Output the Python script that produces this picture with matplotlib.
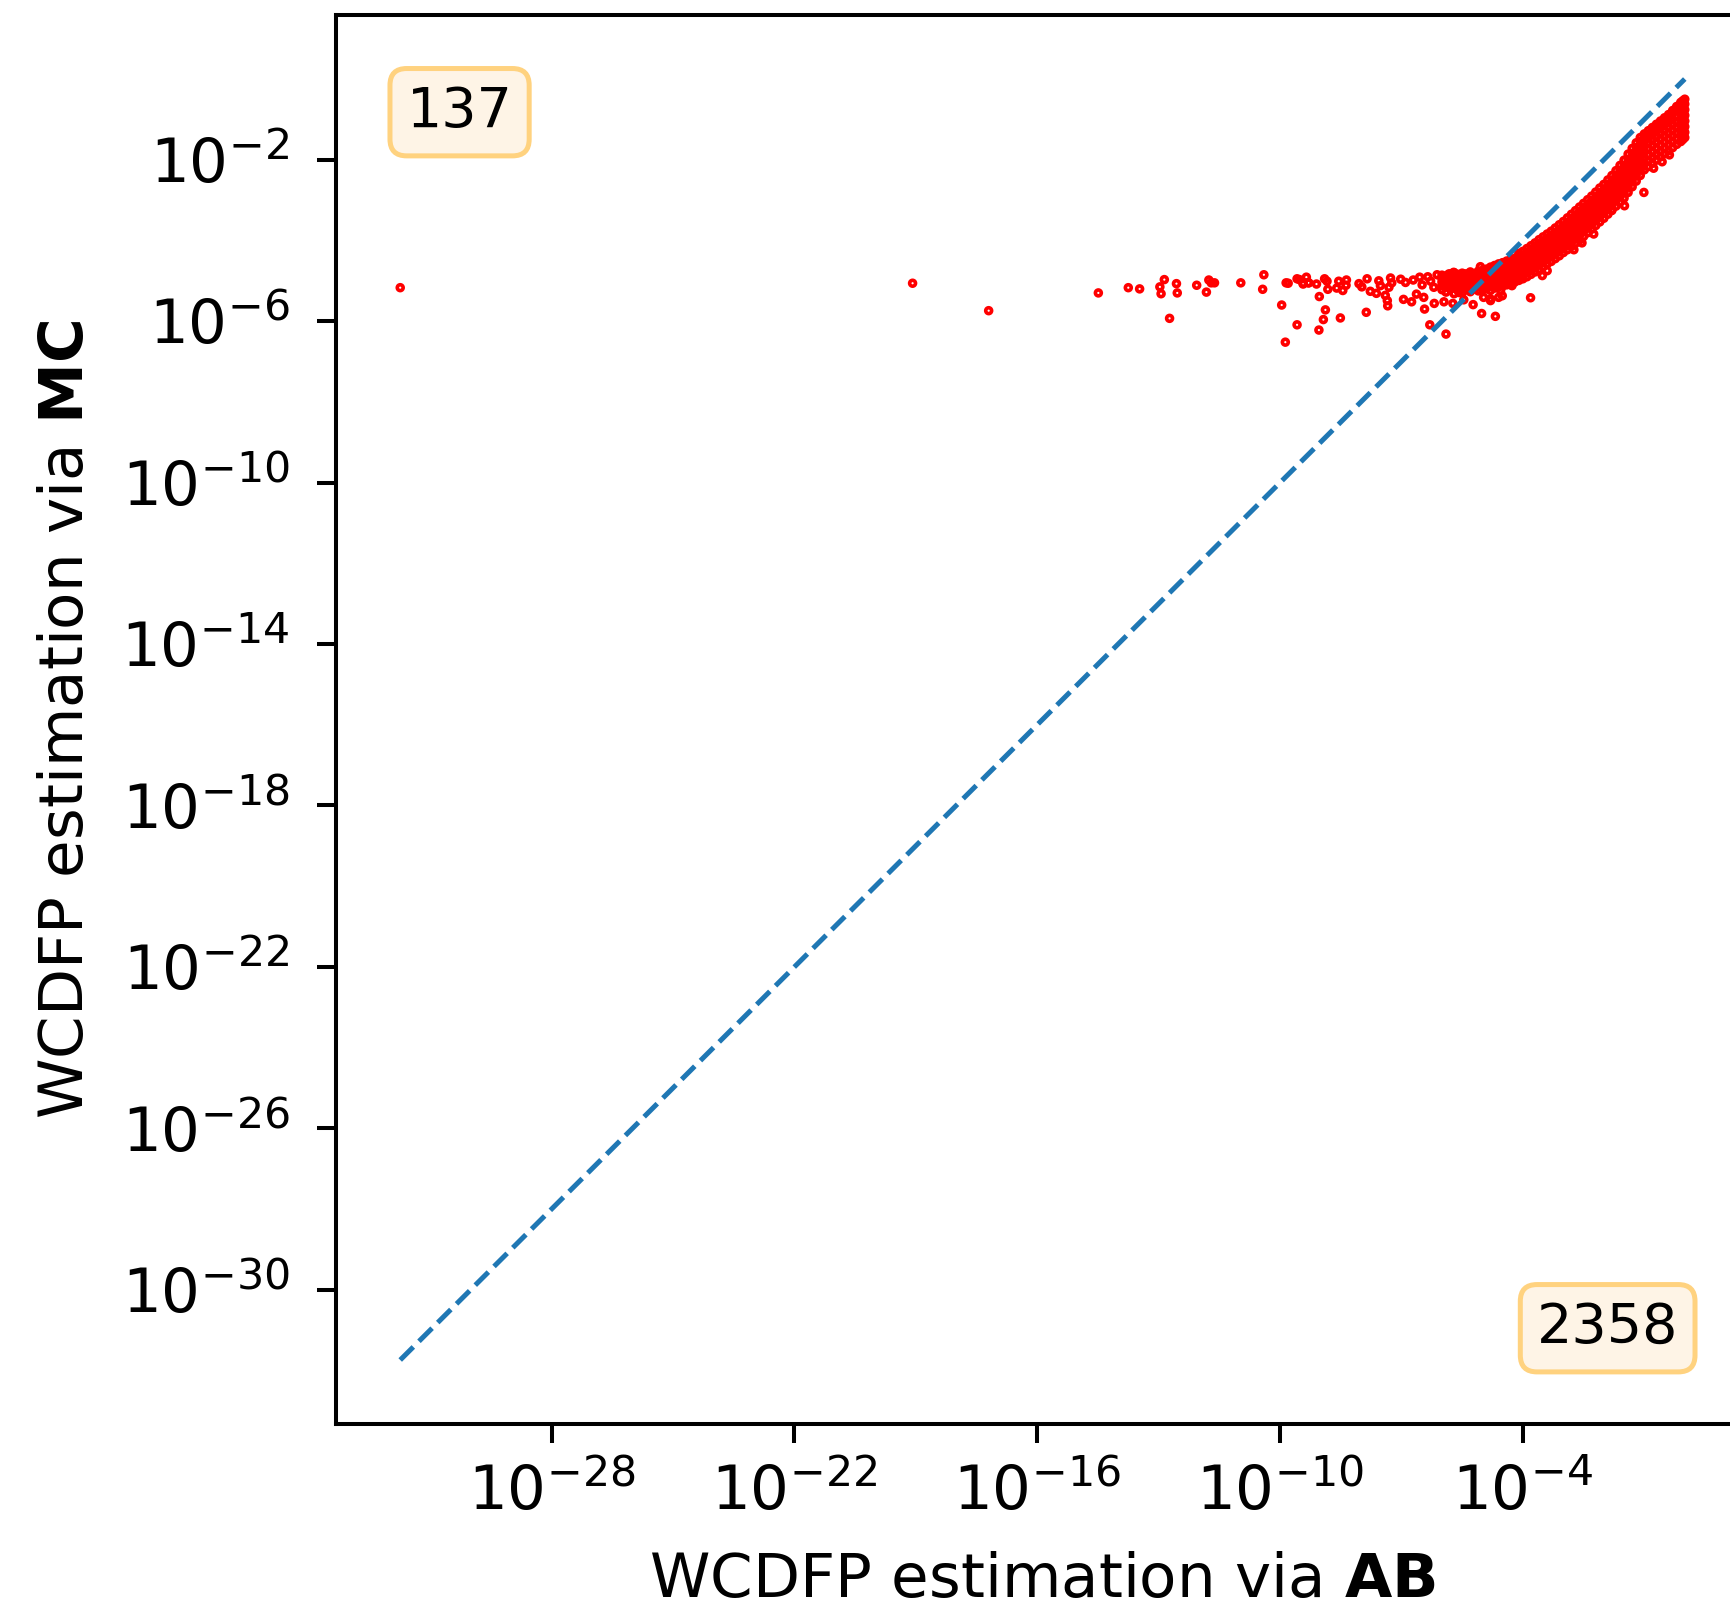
"""
WCDFP: AB estimate vs MC estimate (log-log scatter)
"""

import matplotlib
matplotlib.use("Agg")
import matplotlib.pyplot as plt
import numpy as np

# exponents (log10)
# scattered points away from the dense band: (AB exponent, MC exponent)
ab_exp_sparse = [-31.74, -19.08, -17.20, -14.49, -13.75, -13.47, -12.86, -12.97, -12.94, -12.56,
                 -12.54, -12.73, -12.06, -11.82, -11.76, -11.70, -11.62, -10.97, -10.40, -10.43,
                 -9.96, -9.85, -9.80, -9.58, -9.52, -9.35, -9.43, -9.30, -9.58, -9.87,
                 -9.43, -9.29, -9.10, -9.03, -8.90, -8.84, -8.82, -8.88, -8.93, -9.04,
                 -8.60, -8.55, -8.45, -8.36, -8.37, -8.51, -8.05, -7.98, -7.85, -7.87,
                 -7.77, -7.62, -7.56, -7.52, -7.40, -7.35, -7.34, -7.31, -7.27, -7.24,
                 -7.02, -6.95, -6.90, -6.75, -6.71, -6.63, -6.55, -6.49, -6.45, -6.43,
                 -6.35, -6.28, -6.20, -6.19, -6.12, -6.30, -5.95, -5.90, -5.83, -5.79,
                 -5.71, -5.67, -5.62, -5.58, -5.73, -5.46, -5.42, -5.30, -5.25, -5.23,
                 -5.46, -5.17, -5.05, -5.01, -5.02, -4.97, -4.80, -4.76, -4.68, -4.60,
                 -4.55, -4.47, -3.81, -4.27, -4.06, -0.38, -0.56, -0.77, -1.01, -1.49,
                 -1.81, -2.25, -2.54, -2.74, -3.40, -3.52, -4.51, -4.80]
mc_exp_sparse = [-5.17, -5.06, -5.74, -5.30, -5.17, -5.20, -4.97, -5.15, -5.32, -5.07,
                 -5.30, -5.93, -5.11, -5.28, -4.98, -5.05, -5.05, -5.05, -4.85, -5.21,
                 -5.60, -5.05, -5.06, -4.95, -4.97, -4.91, -5.06, -5.05, -6.09, -6.52,
                 -5.08, -5.05, -5.08, -5.39, -4.95, -5.01, -5.21, -5.72, -5.96, -6.22,
                 -5.18, -5.01, -5.24, -4.98, -5.11, -5.92, -5.07, -5.15, -4.95, -5.78,
                 -5.26, -5.31, -5.00, -5.12, -5.36, -5.49, -5.62, -5.16, -4.93, -5.05,
                 -4.96, -5.46, -5.04, -5.52, -4.98, -5.33, -4.91, -5.10, -5.41, -5.70,
                 -4.90, -5.01, -5.16, -5.56, -4.85, -6.09, -5.52, -6.32, -4.83, -5.04,
                 -4.79, -5.16, -4.95, -5.29, -5.56, -4.83, -5.08, -4.83, -5.20, -5.59,
                 -5.47, -4.83, -4.65, -5.00, -5.81, -5.41, -5.49, -5.12, -5.88, -5.41,
                 -5.24, -4.91, -5.42, -5.12, -4.95, -1.88, -2.05, -2.21, -2.81, -3.14,
                 -3.26, -3.84, -4.06, -4.23, -4.75, -4.87, -5.37, -5.45]

# dense band: one column per AB exponent, MC exponents stacked in that column
band_ab_exp = [-6.0, -5.9, -5.8, -5.7, -5.6, -5.5, -5.4, -5.3, -5.2, -5.1,
               -5.0, -4.9, -4.8, -4.7, -4.6, -4.5, -4.4, -4.3, -4.2, -4.1,
               -4.0, -3.9, -3.8, -3.7, -3.6, -3.5, -3.4, -3.3, -3.2, -3.1,
               -3.0, -2.9, -2.8, -2.7, -2.6, -2.5, -2.4, -2.3, -2.2, -2.1,
               -2.0, -1.9, -1.8, -1.7, -1.6, -1.5, -1.4, -1.3, -1.2, -1.1,
               -1.0, -0.9, -0.8, -0.7, -0.6, -0.5, -0.4, -0.3, -0.2, -0.1,
               -0.05, 0.0]
band_mc_exp = [
    [-5.22, -5.12, -5.03, -4.94, -4.86],
    [-5.28, -5.15, -5.05, -4.96, -4.88],
    [-5.20, -5.10, -5.01, -4.91, -4.83],
    [-5.32, -5.18, -5.08, -4.98, -4.88, -4.80],
    [-5.24, -5.12, -5.03, -4.93, -4.84],
    [-5.30, -5.19, -5.08, -4.99, -4.90, -4.81],
    [-5.22, -5.11, -5.02, -4.92, -4.83],
    [-5.27, -5.15, -5.05, -4.95, -4.86, -4.78],
    [-5.20, -5.10, -5.00, -4.91, -4.82],
    [-5.25, -5.14, -5.04, -4.94, -4.85, -4.76],
    [-5.22, -5.12, -5.02, -4.92, -4.83, -4.74],
    [-5.20, -5.10, -5.00, -4.90, -4.80, -4.71],
    [-5.24, -5.13, -5.03, -4.93, -4.83, -4.74, -4.66],
    [-5.18, -5.08, -4.98, -4.88, -4.78, -4.69, -4.62],
    [-5.15, -5.05, -4.95, -4.85, -4.75, -4.66, -4.58],
    [-5.13, -5.02, -4.92, -4.82, -4.72, -4.63, -4.55],
    [-5.10, -5.00, -4.89, -4.79, -4.69, -4.59, -4.51],
    [-5.06, -4.96, -4.86, -4.76, -4.66, -4.56, -4.47],
    [-5.03, -4.93, -4.83, -4.72, -4.62, -4.52, -4.44],
    [-4.99, -4.89, -4.79, -4.68, -4.58, -4.48, -4.40, -4.32],
    [-4.95, -4.85, -4.75, -4.64, -4.54, -4.45, -4.36, -4.27],
    [-4.90, -4.80, -4.70, -4.59, -4.49, -4.39, -4.29, -4.20],
    [-4.84, -4.74, -4.64, -4.53, -4.43, -4.32, -4.22, -4.13],
    [-4.78, -4.68, -4.57, -4.47, -4.36, -4.25, -4.15, -4.06],
    [-4.72, -4.61, -4.50, -4.40, -4.29, -4.18, -4.08, -3.98],
    [-4.65, -4.54, -4.43, -4.33, -4.22, -4.11, -4.01, -3.91],
    [-4.58, -4.47, -4.36, -4.26, -4.15, -4.04, -3.94, -3.84],
    [-4.52, -4.40, -4.29, -4.19, -4.08, -3.97, -3.87, -3.77],
    [-4.45, -4.34, -4.23, -4.12, -4.01, -3.90, -3.80, -3.69],
    [-4.38, -4.27, -4.16, -4.05, -3.94, -3.83, -3.72, -3.61],
    [-4.30, -4.19, -4.08, -3.97, -3.86, -3.75, -3.64, -3.53],
    [-4.23, -4.12, -4.00, -3.89, -3.78, -3.66, -3.55, -3.44],
    [-4.15, -4.04, -3.92, -3.81, -3.69, -3.58, -3.46, -3.35],
    [-4.07, -3.96, -3.84, -3.72, -3.61, -3.49, -3.37, -3.26],
    [-3.99, -3.87, -3.75, -3.64, -3.52, -3.40, -3.28, -3.17],
    [-3.90, -3.78, -3.66, -3.55, -3.43, -3.31, -3.19, -3.08],
    [-3.81, -3.69, -3.57, -3.46, -3.34, -3.22, -3.10, -2.99],
    [-3.72, -3.60, -3.48, -3.37, -3.25, -3.13, -3.01, -2.90],
    [-3.63, -3.51, -3.39, -3.27, -3.16, -3.04, -2.92, -2.80],
    [-3.54, -3.42, -3.30, -3.18, -3.06, -2.94, -2.82, -2.70],
    [-3.45, -3.33, -3.21, -3.09, -2.97, -2.85, -2.73, -2.61],
    [-3.35, -3.23, -3.11, -2.99, -2.86, -2.74, -2.62, -2.50],
    [-3.25, -3.13, -3.00, -2.88, -2.75, -2.63, -2.51, -2.39],
    [-3.15, -3.02, -2.90, -2.77, -2.64, -2.52, -2.39, -2.27],
    [-3.05, -2.92, -2.79, -2.66, -2.53, -2.40, -2.27, -2.14],
    [-2.95, -2.82, -2.68, -2.55, -2.42, -2.28, -2.15, -2.01],
    [-2.81, -2.68, -2.54, -2.40, -2.27, -2.13, -2.00, -1.86],
    [-2.67, -2.53, -2.39, -2.25, -2.11, -1.97, -1.85, -1.72],
    [-2.53, -2.39, -2.25, -2.10, -1.96, -1.82, -1.70, -1.58],
    [-2.39, -2.25, -2.10, -1.95, -1.81, -1.67, -1.55, -1.45],
    [-2.25, -2.11, -1.96, -1.81, -1.67, -1.54, -1.45, -1.36],
    [-2.17, -2.03, -1.88, -1.73, -1.59, -1.46, -1.37, -1.28],
    [-2.09, -1.95, -1.80, -1.65, -1.51, -1.38, -1.28, -1.20],
    [-2.01, -1.87, -1.72, -1.57, -1.43, -1.30, -1.20, -1.12],
    [-1.93, -1.79, -1.64, -1.49, -1.35, -1.22, -1.12, -1.04],
    [-1.85, -1.71, -1.56, -1.41, -1.27, -1.14, -1.05, -0.96],
    [-1.78, -1.63, -1.48, -1.34, -1.20, -1.07, -0.96, -0.88],
    [-1.70, -1.56, -1.41, -1.27, -1.13, -1.00, -0.86, -0.78],
    [-1.62, -1.48, -1.34, -1.20, -1.06, -0.92, -0.76, -0.68],
    [-1.55, -1.40, -1.26, -1.12, -0.98, -0.84, -0.68, -0.58],
    [-1.50, -1.36, -1.22, -1.08, -0.94, -0.80, -0.66, -0.54],
    [-1.45, -1.32, -1.18, -1.04, -0.90, -0.76, -0.62, -0.50],
]

n_above = 137   # points where MC > AB
n_below = 2358  # points where MC < AB

x_ticks = [1e-28, 1e-22, 1e-16, 1e-10, 1e-4]
y_ticks = [1e-30, 1e-26, 1e-22, 1e-18, 1e-14, 1e-10, 1e-6, 1e-2]

# build the point arrays
ab_exp = list(ab_exp_sparse)
mc_exp = list(mc_exp_sparse)
for xe, col in zip(band_ab_exp, band_mc_exp):
    for ye in col:
        ab_exp.append(xe)
        mc_exp.append(ye)
ab = 10.0 ** np.array(ab_exp)
mc = 10.0 ** np.array(mc_exp)

fs = 44
fig = plt.figure(figsize=(17.31, 16.10), dpi=100)
ax = fig.add_axes([0.1941, 0.1155, 0.8163, 0.8752])

ax.scatter(ab, mc, s=18, facecolors='none', edgecolors='red', linewidths=2.6)
lo, hi = ab.min(), ab.max()
ax.plot([lo, hi], [lo, hi], '--', color='#1f77b4', lw=3.6)

ax.set_xscale('log')
ax.set_yscale('log')
ax.set_xticks(x_ticks)
ax.set_yticks(y_ticks)
ax.xaxis.set_minor_locator(matplotlib.ticker.NullLocator())
ax.yaxis.set_minor_locator(matplotlib.ticker.NullLocator())
ax.tick_params(labelsize=fs, length=13.5, width=2.9)
ax.tick_params(axis='x', pad=15)
ax.tick_params(axis='y', pad=20)
for sp in ax.spines.values():
    sp.set_linewidth(2.9)

ax.set_xlabel(r'WCDFP estimation via $\mathbf{AB}$', fontsize=fs, labelpad=20)
ax.set_ylabel(r'WCDFP estimation via $\mathbf{MC}$', fontsize=fs, labelpad=18)

box = dict(boxstyle='round', facecolor='#fef4e6', edgecolor='#ffd27f', linewidth=3.6)
ax.text(0.05, 0.931, str(n_above), transform=ax.transAxes, fontsize=40,
        ha='left', va='center', bbox=box)
ax.text(0.95, 0.068, str(n_below), transform=ax.transAxes, fontsize=40,
        ha='right', va='center', bbox=box)

fig.savefig('out.png', dpi=100)
